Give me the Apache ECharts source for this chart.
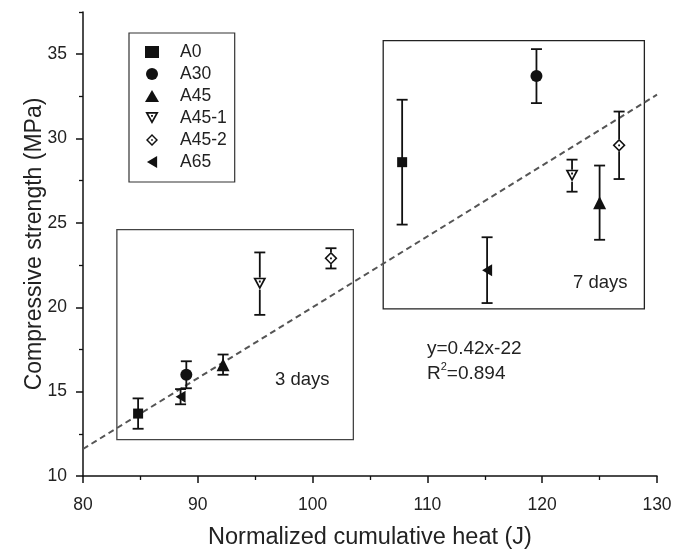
<!DOCTYPE html>
<html>
<head>
<meta charset="utf-8">
<script src="https://cdn.jsdelivr.net/npm/echarts@6/dist/echarts.min.js"></script>
<style>html,body{margin:0;padding:0;background:#fff}#c{width:693px;height:551px}</style>
</head>
<body>
<div id="c"></div>
<script>
// ---- data ----
const mixes = ['A0', 'A30', 'A45', 'A45-1', 'A45-2', 'A65'];
const heat3d = [84.8, 89.0, 92.2, 95.4, 101.6, 88.5];
const strength3d = [13.7, 16.0, 16.6, 21.4, 22.9, 14.7];
const err3d = [0.9, 0.8, 0.6, 1.85, 0.6, 0.45];
const heat7d = [107.8, 119.5, 125.0, 122.6, 126.7, 115.2];
const strength7d = [28.6, 33.7, 26.2, 27.8, 29.6, 22.2];
const err7d = [3.7, 1.6, 2.2, 0.95, 2.0, 1.95];
const fitX = [80, 130];
const fitY = [11.6, 32.6];
const xTicks = [80, 90, 100, 110, 120, 130];
const yTicks = [10, 15, 20, 25, 30, 35];
const yMinorTicks = [12.5, 17.5, 22.5, 27.5, 32.5, 37.5];

// ---- styles ----
const FONT = 'Liberation Sans, Arial, sans-serif';
const INK = '#111';
const hollowDown = 'path://M0 0L20 0L10 18ZM4.4 2.5L10 12.9L15.6 2.5ZM8.6 4.4L11.4 4.4L11.4 7.2L8.6 7.2Z';
const hollowDiamond = 'path://M10 0L20 10L10 20L0 10ZM10 3.4L3.4 10L10 16.6L16.6 10ZM8.6 8.6L11.4 8.6L11.4 11.4L8.6 11.4Z';
const leftTri = 'path://M0 10L17 0L17 20Z';
const symbols = {
  'A0': {symbol: 'rect', size: 10, gap: 0},
  'A30': {symbol: 'circle', size: 12, gap: 0},
  'A45': {symbol: 'triangle', size: 13, gap: 0},
  'A45-1': {symbol: hollowDown, size: [13, 12], gap: 6},
  'A45-2': {symbol: hollowDiamond, size: 13, gap: 6},
  'A65': {symbol: leftTri, size: [10, 12], gap: 0}
};
const boxes = [
  {x: [82.95, 103.55], y: [12.15, 24.6], color: '#444'},
  {x: [106.15, 128.9], y: [19.9, 35.8], color: '#222'}
];

const chart = echarts.init(document.getElementById('c'), null, {renderer: 'canvas'});

const errData = [];
mixes.forEach((m, i) => {
  errData.push([heat3d[i], strength3d[i], err3d[i], symbols[m].gap]);
  errData.push([heat7d[i], strength7d[i], err7d[i], symbols[m].gap]);
});

const series = [];
series.push({
  type: 'line', name: 'fit', data: fitX.map((x, i) => [x, fitY[i]]),
  symbol: 'none', silent: true, z: 1,
  lineStyle: {color: '#555', width: 2, type: [6, 4]},
  markArea: {
    silent: true,
    itemStyle: {color: 'rgba(0,0,0,0)', borderWidth: 1.3},
    data: boxes.map(b => [
      {xAxis: b.x[0], yAxis: b.y[0], itemStyle: {borderColor: b.color}},
      {xAxis: b.x[1], yAxis: b.y[1]}
    ])
  }
});
series.push({
  type: 'custom', name: 'err', data: errData, z: 2, silent: true,
  renderItem: function (params, api) {
    const x = api.value(0), y = api.value(1), e = api.value(2), g = api.value(3);
    const top = api.coord([x, y + e]);
    const bot = api.coord([x, y - e]);
    const mid = api.coord([x, y]);
    const hw = 5.5;
    const st = {stroke: INK, lineWidth: 1.8};
    return {type: 'group', children: [
      {type: 'line', shape: {x1: top[0], y1: top[1], x2: mid[0], y2: mid[1] - g}, style: st},
      {type: 'line', shape: {x1: mid[0], y1: mid[1] + g, x2: bot[0], y2: bot[1]}, style: st},
      {type: 'line', shape: {x1: top[0] - hw, y1: top[1], x2: top[0] + hw, y2: top[1]}, style: st},
      {type: 'line', shape: {x1: bot[0] - hw, y1: bot[1], x2: bot[0] + hw, y2: bot[1]}, style: st}
    ]};
  }
});
mixes.forEach((m, i) => {
  const s = symbols[m];
  series.push({
    type: 'scatter', name: m, z: 3,
    data: [[heat3d[i], strength3d[i]], [heat7d[i], strength7d[i]]],
    symbol: s.symbol, symbolSize: s.size,
    itemStyle: {color: INK, opacity: 1}
  });
});

const option = {
  backgroundColor: '#fff',
  animation: false,
  textStyle: {fontFamily: FONT},
  grid: {left: 83, right: 36, top: 12, bottom: 75, containLabel: false, outerBoundsMode: 'none'},
  legend: {
    data: mixes,
    orient: 'vertical', left: 129, top: 33,
    itemWidth: 14, itemHeight: 12, itemGap: 4,
    padding: [10, 8, 11, 16],
    borderColor: '#333', borderWidth: 1.2,
    textStyle: {fontFamily: FONT, fontSize: 17.5, color: '#222', padding: [0, 0, 0, 16]},
    inactiveColor: INK
  },
  xAxis: {
    type: 'value', min: 80, max: 130, interval: 10,
    name: 'Normalized cumulative heat (J)', nameLocation: 'middle', nameGap: 50,
    nameMoveOverlap: false,
    nameTextStyle: {fontFamily: FONT, fontSize: 23.5, color: '#222'},
    axisLine: {show: true, onZero: false, lineStyle: {color: INK, width: 1.5}},
    axisTick: {show: true, length: 7, lineStyle: {color: INK, width: 1.5}, customValues: xTicks},
    minorTick: {show: true, splitNumber: 2, length: 4, lineStyle: {color: INK, width: 1.3}},
    axisLabel: {fontFamily: FONT, fontSize: 17.5, color: '#222', margin: 20, customValues: xTicks},
    splitLine: {show: false}
  },
  yAxis: [{
    type: 'value', min: 10, max: 37.5,
    name: 'Compressive strength (MPa)', nameLocation: 'middle', nameGap: 37,
    nameMoveOverlap: false,
    nameTextStyle: {fontFamily: FONT, fontSize: 23, color: '#222'},
    axisLine: {show: true, onZero: false, lineStyle: {color: INK, width: 1.5}},
    axisTick: {show: true, length: 7, lineStyle: {color: INK, width: 1.5}, customValues: yTicks},
    axisLabel: {fontFamily: FONT, fontSize: 17.5, color: '#222', margin: 16, customValues: yTicks},
    splitLine: {show: false}
  }, {
    type: 'value', min: 10, max: 37.5, position: 'left', offset: 0,
    axisLine: {show: false},
    axisTick: {show: true, length: 4, lineStyle: {color: INK, width: 1.3}, customValues: yMinorTicks},
    axisLabel: {show: false},
    splitLine: {show: false}
  }],
  graphic: [
    {type: 'text', left: 573, top: 273, style: {text: '7 days', font: '18.5px ' + FONT, fill: '#222'}},
    {type: 'text', left: 275, top: 370, style: {text: '3 days', font: '18.5px ' + FONT, fill: '#222'}},
    {type: 'text', left: 427, top: 336, style: {
      text: 'y=0.42x-22\nR{sup|2}=0.894', font: '19px ' + FONT, fill: '#222', lineHeight: 25,
      rich: {sup: {fontSize: 11, verticalAlign: 'top', padding: [0, 0, 8, 0], fontFamily: FONT, fill: '#222'}}
    }}
  ],
  series: series
};
chart.setOption(option);
</script>
</body>
</html>
